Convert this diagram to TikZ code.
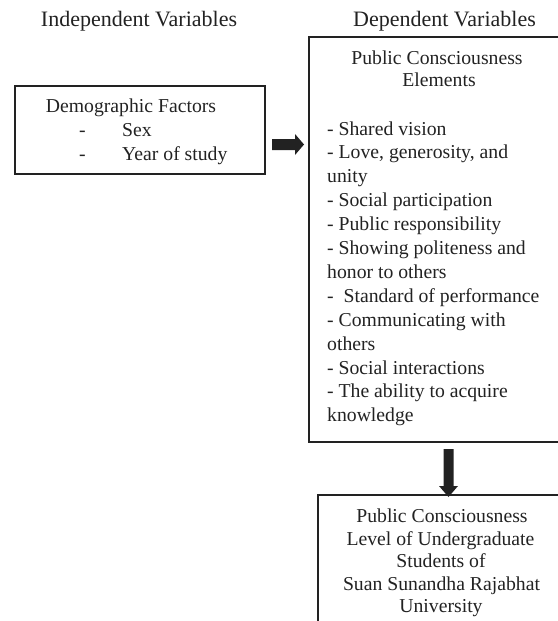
\documentclass[tikz,border=0pt]{standalone}
\usepackage{fontspec}
\setmainfont{Liberation Serif}
\definecolor{ink}{HTML}{222222}
\begin{document}
\begin{tikzpicture}[x=1pt,y=-1pt,
  box/.style={draw=ink, line width=1.6pt, rectangle, inner sep=0pt, anchor=north west},
  body/.style={text=ink, inner sep=0pt, font=\fontsize{19.7}{23.7}\selectfont},
  head/.style={text=ink, inner sep=0pt, font=\fontsize{22}{26}\selectfont},
  blockarrow/.style={fill=ink, draw=none}]
\useasboundingbox (0,0) rectangle (557,621);
% headers
\node[head, anchor=base] (indep) at (139,26) {Independent Variables};
\node[head, anchor=base] (dep) at (444.5,26) {Dependent Variables};
% boxes
\node[box, minimum width=250pt, minimum height=88pt] (demo) at (14,85) {};
\node[box, minimum width=262pt, minimum height=405pt] (elem) at (308,36) {};
\node[box, minimum width=262pt, minimum height=150pt] (level) at (317,494) {};
% left box text
\node[body, anchor=base] (demot) at (131,112) {Demographic Factors};
\node[body, anchor=base west] (d1) at (79,136) {-};
\node[body, anchor=base west] (sex) at (122,136) {Sex};
\node[body, anchor=base west] (d2) at (79,160) {-};
\node[body, anchor=base west] (year) at (122,160) {Year of study};
% right box title
\node[body, anchor=base] (pc1) at (437,64) {Public Consciousness};
\node[body, anchor=base] (pc2) at (439,86) {Elements};
% list
\foreach \t [count=\k from 0] in {{- Shared vision},{- Love, generosity, and},{unity},{- Social participation},{- Public responsibility},{- Showing politeness and},{honor to others},{-\ \ Standard of performance},{- Communicating with},{others},{- Social interactions},{- The ability to acquire},{knowledge}}
  \node[body, anchor=base west] (item\k) at (327,135+23.9*\k) {\t};
% bottom box text
\node[body, anchor=base] (b1) at (442,522) {Public Consciousness};
\node[body, anchor=base] (b2) at (440.5,545) {Level of Undergraduate};
\node[body, anchor=base] (b3) at (441,567) {Students of};
\node[body, anchor=base] (b4) at (441.5,590) {Suan Sunandha Rajabhat};
\node[body, anchor=base] (b5) at (441,612) {University};
% block arrows
\coordinate (ra) at (272,144.5);
\fill[blockarrow] (ra) ++(0,-5.5) -- ++(23,0) -- ++(0,-5) -- ++(9,10.5) -- ++(-9,10.5) -- ++(0,-5) -- ++(-23,0) -- cycle;
\coordinate (da) at (448.5,449);
\fill[blockarrow] (da) ++(-5,0) -- ++(10,0) -- ++(0,37) -- ++(4.5,0) -- ++(-9.5,11) -- ++(-9.5,-11) -- ++(4.5,0) -- cycle;
\end{tikzpicture}
\end{document}
